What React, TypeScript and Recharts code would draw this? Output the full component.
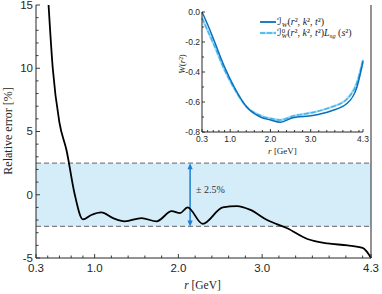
import { Line, LineChart, ReferenceArea, ReferenceLine, XAxis, YAxis, Label } from 'recharts'

// main curve: relative error (%) vs r (GeV)
const rMain = [0.45, 0.5, 0.58, 0.665, 0.76, 0.86, 0.96, 1.08, 1.22, 1.36, 1.56, 1.74, 1.92, 2.02, 2.11, 2.29, 2.53, 2.7, 2.86, 3.06, 3.3, 3.54, 3.78, 4.02, 4.2, 4.25, 4.3]
const errMain = [15, 10, 5.7, 3.5, 0.1, -1.95, -1.6, -1.4, -1.85, -2.1, -1.85, -2.1, -1.3, -1.45, -1.0, -2.3, -1.0, -0.9, -1.2, -2.0, -2.65, -3.5, -3.85, -4.0, -4.2, -4.5, -5]

// inset: W(r^2)
const rInset = [0.3, 0.45, 0.6, 0.85, 1.1, 1.4, 1.75, 2.0, 2.25, 2.55, 3.05, 3.5, 3.9, 4.15, 4.3]
const wFull = [0.0, -0.09, -0.19, -0.36, -0.5, -0.63, -0.7, -0.72, -0.735, -0.705, -0.69, -0.66, -0.61, -0.5, -0.33]
const wLsg = [-0.04, -0.13, -0.22, -0.38, -0.51, -0.63, -0.69, -0.71, -0.72, -0.695, -0.67, -0.635, -0.58, -0.47, -0.32]

const xTicks = [0.3, 0.44, 0.58, 0.72, 0.86, 1.0, 1.2, 1.4, 1.6, 1.8, 2.0, 2.2, 2.4, 2.6, 2.8, 3.0, 3.2, 3.4, 3.6, 3.8, 4.0, 4.2, 4.3]
const xMajors = [0.3, 1.0, 2.0, 3.0, 4.3]
const yTicksMain = [-5, -4, -3, -2, -1, 0, 1, 2, 3, 4, 5, 6, 7, 8, 9, 10, 11, 12, 13, 14, 15]
const yMajorsMain = [-5, 0, 5, 10, 15]
const yTicksInset = [-0.8, -0.7, -0.6, -0.5, -0.4, -0.3, -0.2, -0.1, 0]
const yMajorsInset = [-0.8, -0.6, -0.4, -0.2, 0]
const bandHalf = 2.5

const mainData = rMain.map((r, i) => ({ r, err: errMain[i] }))
const insetData = rInset.map((r, i) => ({ r, full: wFull[i], lsg: wLsg[i] }))

const AX = '#262626'
const SANS = 'Liberation Sans, Arial, sans-serif'
const SERIF = 'Liberation Serif, DejaVu Serif, DejaVu Sans, serif'

type Side = 'bottom' | 'top' | 'left' | 'right'

function tickFn(side: Side, majors: number[], opts: { labels: boolean; fs: number; big: number; small: number; gap: number; fmt: (v: number) => string }) {
  return (p: any) => {
    const { x, y, payload } = p
    const v = payload.value
    const major = majors.some((m) => Math.abs(m - v) < 1e-6)
    const len = major ? opts.big : opts.small
    let ln
    if (side === 'bottom') ln = <line x1={x} x2={x} y1={y} y2={y - len} />
    else if (side === 'top') ln = <line x1={x} x2={x} y1={y} y2={y + len} />
    else if (side === 'left') ln = <line x1={x} x2={x + len} y1={y} y2={y} />
    else ln = <line x1={x} x2={x - len} y1={y} y2={y} />
    let txt = null
    if (opts.labels && major) {
      if (side === 'bottom')
        txt = (
          <text x={x} y={y + opts.gap + opts.fs * 0.75} textAnchor="middle" fontSize={opts.fs} fontFamily={SANS} fill={AX} stroke="none">
            {opts.fmt(v)}
          </text>
        )
      else if (side === 'left')
        txt = (
          <text x={x - opts.gap} y={y + opts.fs * 0.33} textAnchor="end" fontSize={opts.fs} fontFamily={SANS} fill={AX} stroke="none">
            {opts.fmt(v)}
          </text>
        )
    }
    return (
      <g stroke={AX} strokeWidth={0.9}>
        {ln}
        {txt}
      </g>
    )
  }
}

function Arrow(props: any) {
  const { x1, y1, y2 } = props
  const top = Math.min(y1, y2)
  const bot = Math.max(y1, y2)
  const c = '#1b7fd3'
  return (
    <g>
      <line x1={x1} x2={x1} y1={top + 4} y2={bot - 4} stroke={c} strokeWidth={1.5} />
      <polygon points={`${x1},${top} ${x1 - 2.6},${top + 6} ${x1 + 2.6},${top + 6}`} fill={c} />
      <polygon points={`${x1},${bot} ${x1 - 2.6},${bot - 6} ${x1 + 2.6},${bot - 6}`} fill={c} />
      <text x={x1 + 6} y={(top + bot) / 2 - 2} fontSize={10} fontFamily={SERIF} fill="#333">
        ± 2.5%
      </text>
    </g>
  )
}

function MainChart() {
  const fmt = (v: number) => String(v)
  const xf = (v: number) => v.toFixed(1)
  return (
    <LineChart width={382} height={294} data={mainData} margin={{ top: 5, right: 0, bottom: 0, left: 0 }}>
      <XAxis xAxisId="b" dataKey="r" type="number" domain={[0.3, 4.3]} ticks={xTicks} interval={0} orientation="bottom" height={36} tickSize={0} tickMargin={0} stroke={AX} tick={tickFn('bottom', xMajors, { labels: true, fs: 11.5, big: 4, small: 2.5, gap: 5, fmt: xf })}>
        <Label
          content={(lp: any) => {
            const vb = lp.viewBox
            return (
              <text x={vb.x + vb.width / 2 - 1} y={289} textAnchor="middle" fontSize={11.5} fontFamily={SERIF} fill={AX}>
                <tspan fontStyle="italic">r</tspan> [GeV]
              </text>
            )
          }}
        />
      </XAxis>
      <XAxis xAxisId="t" dataKey="r" type="number" domain={[0.3, 4.3]} ticks={xTicks} interval={0} orientation="top" height={0} tickSize={0} tickMargin={0} stroke={AX} tick={tickFn('top', xMajors, { labels: false, fs: 11, big: 4, small: 2.5, gap: 4, fmt: xf })} />
      <YAxis yAxisId="l" type="number" domain={[-5, 15]} ticks={yTicksMain} interval={0} width={36} tickSize={0} tickMargin={0} stroke={AX} tick={tickFn('left', yMajorsMain, { labels: true, fs: 11.5, big: 4, small: 2.5, gap: 3, fmt })}>
        <Label
          content={() => (
            <text x={12} y={131} transform="rotate(-90 12 131)" textAnchor="middle" fontSize={12} fontFamily={SERIF} fill={AX}>
              Relative error [%]
            </text>
          )}
        />
      </YAxis>
      <YAxis yAxisId="r" orientation="right" type="number" domain={[-5, 15]} ticks={yTicksMain} interval={0} width={11} tickSize={0} tickMargin={0} stroke={AX} tick={tickFn('right', yMajorsMain, { labels: false, fs: 11, big: 4, small: 2.5, gap: 3, fmt })} />
      <ReferenceArea xAxisId="b" yAxisId="l" x1={0.3} x2={4.3} y1={-bandHalf} y2={bandHalf} fill="#d4edf9" fillOpacity={1} stroke="none" />
      <ReferenceLine xAxisId="b" yAxisId="l" y={bandHalf} stroke="#7f7f7f" strokeWidth={1.3} strokeDasharray="5 3" />
      <ReferenceLine xAxisId="b" yAxisId="l" y={-bandHalf} stroke="#7f7f7f" strokeWidth={1.3} strokeDasharray="5 3" />
      <ReferenceLine xAxisId="b" yAxisId="l" segment={[{ x: 2.14, y: -bandHalf }, { x: 2.14, y: bandHalf }]} shape={Arrow} />
      <Line xAxisId="b" yAxisId="l" dataKey="err" type="monotone" stroke="#000" strokeWidth={1.8} dot={false} isAnimationActive={false} />
    </LineChart>
  )
}

function InsetChart() {
  const xf = (v: number) => v.toFixed(1)
  const yf = (v: number) => v.toFixed(1)
  return (
    <LineChart width={200} height={160} data={insetData} margin={{ top: 12, right: 7, bottom: 0, left: 0 }}>
      <XAxis xAxisId="b" dataKey="r" type="number" domain={[0.3, 4.3]} ticks={xTicks} interval={0} orientation="bottom" height={28} tickSize={0} tickMargin={0} stroke={AX} tick={tickFn('bottom', xMajors, { labels: true, fs: 8.5, big: 3, small: 2, gap: 4, fmt: xf })}>
        <Label
          content={(lp: any) => {
            const vb = lp.viewBox
            return (
              <text x={vb.x + vb.width / 2} y={154} textAnchor="middle" fontSize={9} fontFamily={SERIF} fill={AX}>
                <tspan fontStyle="italic">r</tspan> [GeV]
              </text>
            )
          }}
        />
      </XAxis>
      <XAxis xAxisId="t" dataKey="r" type="number" domain={[0.3, 4.3]} ticks={xTicks} interval={0} orientation="top" height={0} tickSize={0} tickMargin={0} stroke={AX} tick={tickFn('top', xMajors, { labels: false, fs: 8.5, big: 3, small: 2, gap: 2, fmt: xf })} />
      <YAxis yAxisId="l" type="number" domain={[-0.8, 0]} ticks={yTicksInset} interval={0} width={32} tickSize={0} tickMargin={0} stroke={AX} tick={tickFn('left', yMajorsInset, { labels: true, fs: 8.5, big: 3, small: 2, gap: 2, fmt: yf })}>
        <Label
          content={() => (
            <text x={15} y={64} transform="rotate(-90 15 64)" textAnchor="middle" fontSize={9} fontFamily={SERIF} fill={AX}>
              <tspan fontStyle="italic">W</tspan>(<tspan fontStyle="italic">r</tspan>²)
            </text>
          )}
        />
      </YAxis>
      <YAxis yAxisId="r" orientation="right" type="number" domain={[-0.8, 0]} ticks={yTicksInset} interval={0} width={0} tickSize={0} tickMargin={0} stroke={AX} tick={tickFn('right', yMajorsInset, { labels: false, fs: 8.5, big: 3, small: 2, gap: 2, fmt: yf })} />
      <Line xAxisId="b" yAxisId="l" dataKey="lsg" type="monotone" stroke="#a6dbf5" strokeWidth={2.4} dot={false} isAnimationActive={false} />
      <Line xAxisId="b" yAxisId="l" dataKey="lsg" type="monotone" stroke="#3fb5ec" strokeWidth={1.4} strokeDasharray="5 2" dot={false} isAnimationActive={false} />
      <Line xAxisId="b" yAxisId="l" dataKey="full" type="monotone" stroke="#0a6fbd" strokeWidth={1.5} dot={false} isAnimationActive={false} />
    </LineChart>
  )
}

function InsetLegend() {
  return (
    <svg width={382} height={294} style={{ position: 'absolute', left: 0, top: 0, pointerEvents: 'none' }}>
      <line x1={260} x2={276} y1={22} y2={22} stroke="#0a6fbd" strokeWidth={1.8} />
      <line x1={260} x2={276} y1={33} y2={33} stroke="#a6dbf5" strokeWidth={2.4} />
      <line x1={260} x2={276} y1={33} y2={33} stroke="#3fb5ec" strokeWidth={1.4} strokeDasharray="5 2" />
      <text x={277} y={25.3} fontSize={10} fontFamily={SERIF} fill="#222">
        <tspan fontStyle="italic">ℐ</tspan>
        <tspan fontSize={6.8} dy={2} fontStyle="italic">W</tspan>
        <tspan dy={-2}>(</tspan>
        <tspan fontStyle="italic">r</tspan>², <tspan fontStyle="italic">k</tspan>², <tspan fontStyle="italic">t</tspan>²)
      </text>
      <text x={277} y={36.3} fontSize={10} fontFamily={SERIF} fill="#222">
        <tspan fontStyle="italic">ℐ</tspan>
        <tspan fontSize={6.8} dy={-3.5}>0</tspan>
        <tspan fontSize={6.8} dx={-3.6} dy={5.5} fontStyle="italic">W</tspan>
        <tspan dy={-2}>(</tspan>
        <tspan fontStyle="italic">r</tspan>², <tspan fontStyle="italic">k</tspan>², <tspan fontStyle="italic">t</tspan>²)
        <tspan fontStyle="italic">L</tspan>
        <tspan fontSize={6.8} dy={2} fontStyle="italic">sg</tspan>
        <tspan dy={-2}> (</tspan>
        <tspan fontStyle="italic">s</tspan>²)
      </text>
    </svg>
  )
}

export default function App() {
  return (
    <div style={{ position: 'absolute', left: 0, top: 0, width: 382, height: 294, background: '#fff' }}>
      <div style={{ position: 'absolute', left: 0, top: 0 }}>
        <MainChart />
      </div>
      <div style={{ position: 'absolute', left: 202, top: 12, width: 161, height: 120, background: '#fff' }} />
      <div style={{ position: 'absolute', left: 170, top: 0 }}>
        <InsetChart />
      </div>
      <InsetLegend />
    </div>
  )
}
